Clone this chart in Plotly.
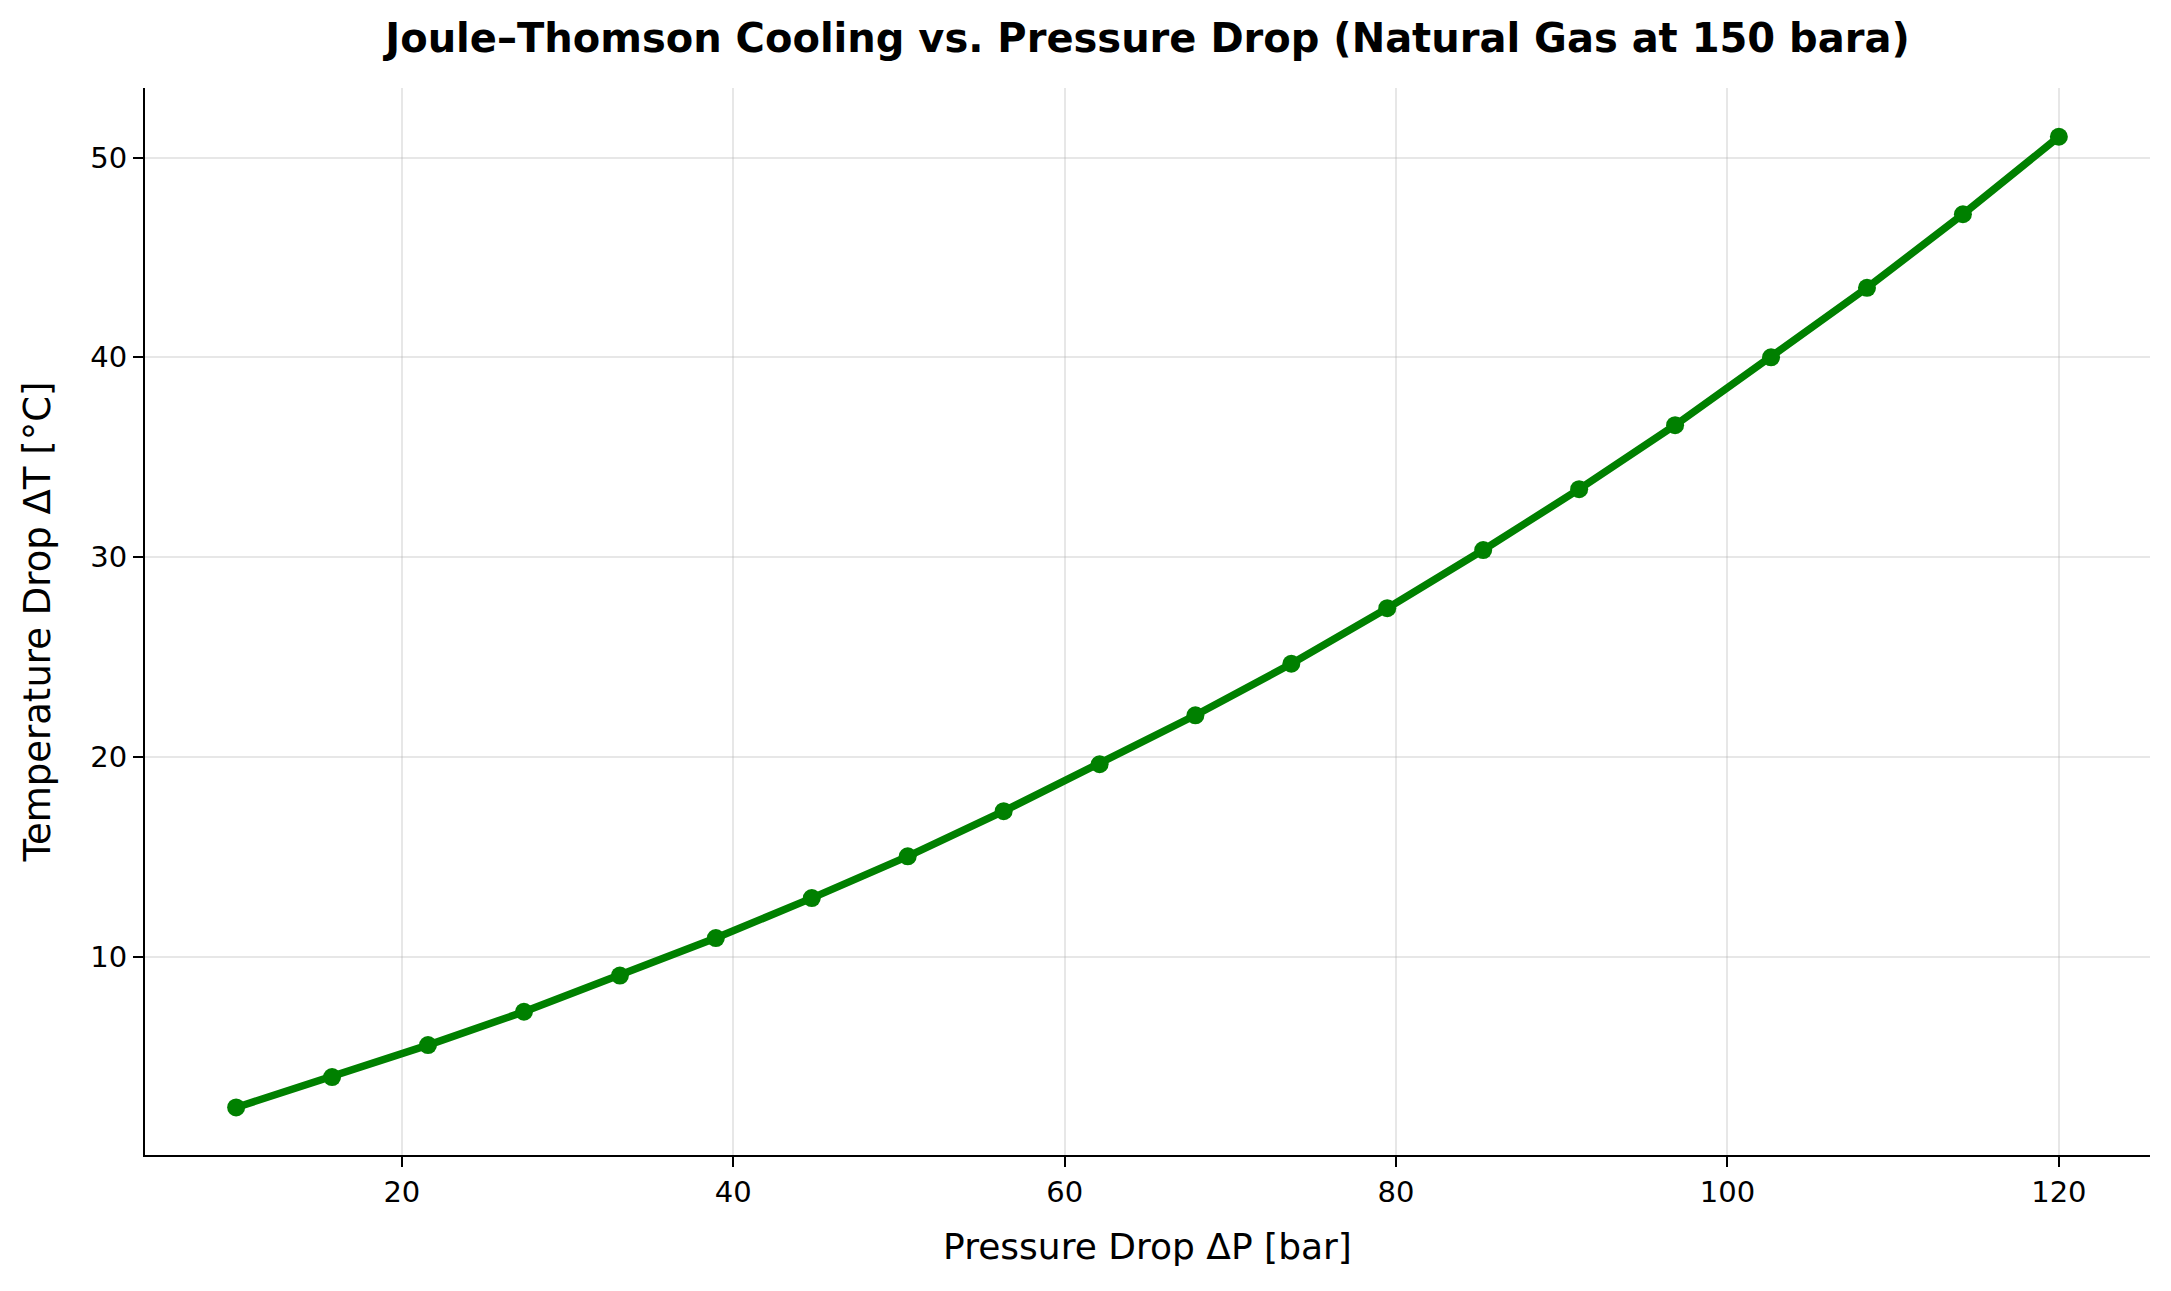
import plotly.graph_objects as go

# pressure drop points (bar) and resulting JT cooling (degC)
pressure_drop = [10.0, 15.79, 21.58, 27.37, 33.16, 38.95, 44.74, 50.53, 56.32, 62.11,
                 67.89, 73.68, 79.47, 85.26, 91.05, 96.84, 102.63, 108.42, 114.21, 120.0]
temp_drop = [2.45, 3.97, 5.57, 7.24, 9.05, 10.93, 12.93, 15.02, 17.28, 19.63,
             22.08, 24.66, 27.44, 30.35, 33.40, 36.60, 40.00, 43.48, 47.16, 51.04]

x_ticks = [20, 40, 60, 80, 100, 120]
y_ticks = [10, 20, 30, 40, 50]

W, H = 2163, 1283  # page body has an 8px margin
L, R, T, B = 137, 21, 80, 136

fig = go.Figure()
fig.add_trace(go.Scatter(
    x=pressure_drop, y=temp_drop,
    mode="lines+markers",
    line=dict(color="green", width=7.5),
    marker=dict(color="green", size=18),
    showlegend=False,
))

axis_common = dict(
    showline=True, linecolor="black", linewidth=2.2,
    ticks="outside", ticklen=10, tickwidth=2.2, tickcolor="black",
    showgrid=True, gridcolor="rgba(176,176,176,0.3)", gridwidth=2,
    zeroline=False, mirror=False,
    tickfont=dict(family="DejaVu Sans", size=29, color="black"),
)

fig.update_layout(
    width=W, height=H,
    margin=dict(l=L, r=R, t=T, b=B),
    paper_bgcolor="white", plot_bgcolor="white",
    title=dict(
        text="<b>Joule–Thomson Cooling vs. Pressure Drop (Natural Gas at 150 bara)</b>",
        x=(L + (W - R)) / 2 / W, xanchor="center", y=1 - 30 / H, yanchor="middle",
        font=dict(family="DejaVu Sans", size=40, color="black"),
    ),
    xaxis=dict(
        range=[4.5, 125.5], tickvals=x_ticks,
        title=dict(text="Pressure Drop ΔP [bar]", standoff=26,
                   font=dict(family="DejaVu Sans", size=36, color="black")),
        **axis_common,
    ),
    yaxis=dict(
        range=[0.07, 53.48], tickvals=y_ticks,
        title=dict(text="Temperature Drop ΔT [°C]", standoff=28,
                   font=dict(family="DejaVu Sans", size=37, color="black")),
        **axis_common,
    ),
)

fig.write_html("out.html")
